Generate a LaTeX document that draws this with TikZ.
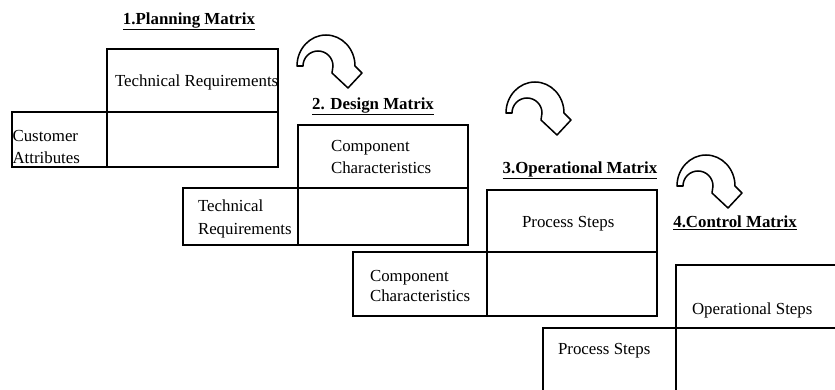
\documentclass[tikz,border=0pt]{standalone}
\usepackage{fontspec}
\setmainfont{Liberation Serif}
\tikzset{
  cell/.style={draw, line width=1.6pt, rectangle, anchor=north west, inner sep=0pt, outer sep=0pt},
  txt/.style={inner sep=0pt, outer sep=0pt, font=\fontsize{14.4}{17}\selectfont, align=left},
  ttl/.style={inner sep=0pt, outer sep=0pt, anchor=base, font=\fontsize{14.4}{17}\selectfont\bfseries},
  arrowline/.style={draw=black, fill=white, line width=1.3pt, line join=round},
  uturn/.pic={
    \draw[arrowline] (-29,0) arc[start angle=180, end angle=360, x radius=29, y radius=31]
      -- (36,7) -- (22,22) -- (6,7) -- (7,0)
      arc[start angle=360, end angle=180, radius=15] -- cycle;
  }
}
\newcommand{\cellbox}[5]{\node[cell, minimum width=#4*0.03cm, minimum height=#5*0.03cm] (#1) at (#2,#3) {};}
\begin{document}
\begin{tikzpicture}[x=0.03cm, y=-0.03cm]
\useasboundingbox (0,0) rectangle (835,389);
\clip (0,0) rectangle (835,389);
% titles
\node[ttl] (t1) at (189,24) {\underline{1.Planning Matrix}};
\node[ttl] (t2) at (373,109) {\underline{2. Design Matrix}};
\node[ttl] (t3) at (580,173) {\underline{3.Operational Matrix}};
\node[ttl] (t4) at (735,227) {\underline{4.Control Matrix}};
% matrix 1
\cellbox{m1t}{107}{49}{171}{63}
\cellbox{m1l}{12}{112}{95}{55}
\cellbox{m1m}{107}{112}{171}{55}
% matrix 2
\cellbox{m2t}{298}{125}{170}{63}
\cellbox{m2l}{183}{188}{115}{57}
\cellbox{m2m}{298}{188}{170}{57}
% matrix 3
\cellbox{m3t}{487}{190}{170}{62}
\cellbox{m3l}{353}{252}{134}{64}
\cellbox{m3m}{487}{252}{170}{64}
% matrix 4
\cellbox{m4t}{676}{265}{190}{63}
\cellbox{m4l}{543}{328}{133}{70}
\cellbox{m4m}{676}{328}{190}{70}
% texts
\node[txt, anchor=base west] (x1) at (115,86) {Technical Requirements};
\node[txt, anchor=west, font=\fontsize{14.4}{18}\selectfont] (x2) at (12.5,147) {Customer\\Attributes};
\node[txt, anchor=west, font=\fontsize{14.4}{18}\selectfont] (x3) at (331,157) {Component\\Characteristics};
\node[txt, anchor=west, font=\fontsize{14.4}{19}\selectfont] (x4) at (198,219) {Technical\\Requirements};
\node[txt, anchor=base west] (x5) at (522,227) {Process Steps};
\node[txt, anchor=west, font=\fontsize{14.4}{16.5}\selectfont] (x6) at (370,286) {Component\\Characteristics};
\node[txt, anchor=base west] (x7) at (692,314) {Operational Steps};
\node[txt, anchor=base west] (x8) at (558,354) {Process Steps};
% curved arrows
\pic (a1) at (326,66) {uturn};
\pic (a2) at (535,113) {uturn};
\pic (a3) at (706,186) {uturn};
\end{tikzpicture}
\end{document}
